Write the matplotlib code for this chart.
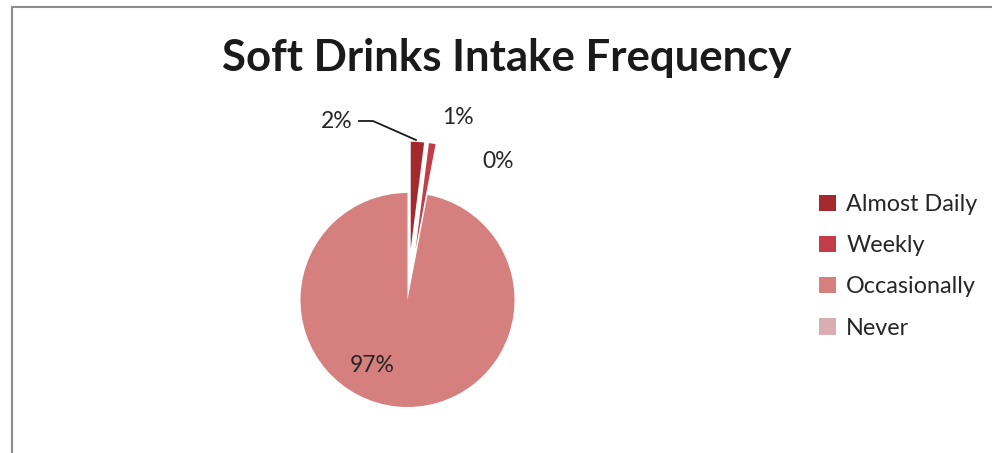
import matplotlib
matplotlib.use("Agg")
import matplotlib.pyplot as plt
from matplotlib.patches import Rectangle

categories = ["Almost Daily", "Weekly", "Occasionally", "Never"]
values = [2, 1, 97, 0]
pct_labels = ["2%", "1%", "97%", "0%"]
colors = ["#A3292F", "#C23D48", "#D67F7F", "#D8AEB3"]
title = "Soft Drinks Intake Frequency"

W, H = 992, 453
fig = plt.figure(figsize=(W / 100, H / 100), dpi=100)
plt.rcParams['font.family'] = ['Lato', 'DejaVu Sans']

ax = fig.add_axes([0, 0, 1, 1])
center = (407.5, H - 300)
radius = 107
explode_frac = [0.48, 0.48, 0.0, 0.48]
wedges, _ = ax.pie(values, colors=colors, startangle=90, counterclock=False,
                   explode=[e * radius for e in explode_frac], center=center,
                   radius=radius, wedgeprops=dict(linewidth=0))
ax.set_xlim(0, W)
ax.set_ylim(0, H)
ax.set_aspect('equal')
ax.axis('off')

# frame
fig.patches.append(Rectangle((11.5 / W, -0.1), 1.2, (H - 7) / H + 0.1,
                             transform=fig.transFigure, fill=False,
                             edgecolor="#8C8C8C", linewidth=1.5))

ax.text(507, H - 58, title, ha='center', va='center', fontsize=31.5,
        fontweight='bold', color='#1a1a1a')

# label positions in order of pct_labels: 2%, 1%, 97%, 0%
label_pos = [(337, H - 121), (458, H - 117), (372, H - 365), (498, H - 162)]
for txt, (x, y) in zip(pct_labels, label_pos):
    ax.text(x, y, txt, ha='center', va='center', fontsize=16.5, color='#262626')
ax.plot([359, 373, 416], [H - 121, H - 121, H - 140], color='#1a1a1a', lw=1.3)

leg = ax.legend(wedges, categories, loc='upper left',
                bbox_to_anchor=(810 / W, 1 - 185 / H), frameon=False,
                fontsize=16.8, handlelength=0.7, handleheight=0.7,
                handletextpad=0.45, labelspacing=0.86, borderaxespad=0)
for t in leg.get_texts():
    t.set_color('#262626')

fig.savefig("out.png", dpi=100)
